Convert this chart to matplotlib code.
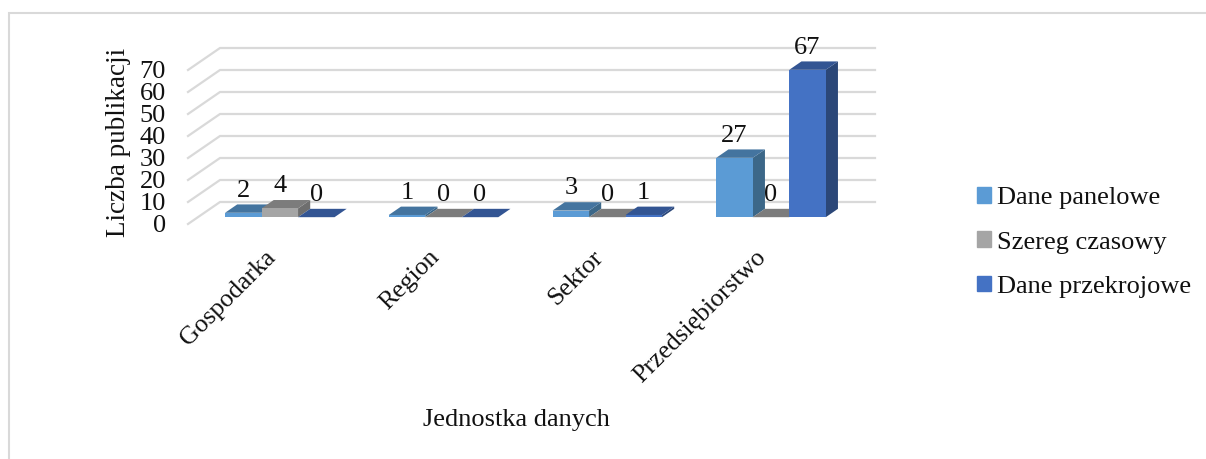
import matplotlib.pyplot as plt
from matplotlib.patches import Patch, Rectangle

plt.rcParams["font.family"] = "Liberation Serif"

# Data
categories = ["Gospodarka", "Region", "Sektor", "Przedsiębiorstwo"]
series_names = ["Dane panelowe", "Szereg czasowy", "Dane przekrojowe"]
panel = [2, 1, 3, 27]
time_series = [4, 0, 0, 0]
cross_section = [0, 0, 1, 67]
y_ticks = [0, 10, 20, 30, 40, 50, 60, 70]

series = [panel, time_series, cross_section]
front_colors = ["#5B9BD5", "#A5A5A5", "#4472C4"]
top_colors = ["#44749F", "#7C7C7C", "#335593"]
side_colors = ["#3C6788", "#6E6E6E", "#2B4778"]
text_color = "#111111"

W, H = 1206, 459
fig = plt.figure(figsize=(W / 100, H / 100), dpi=100)
ax = fig.add_axes([188 / W, (H - 224) / H, 655 / W, 154 / H])
ax.set_xlim(-0.5, 3.5)
ax.set_ylim(0, 70)
ax.patch.set_visible(False)
for s in ax.spines.values():
    s.set_visible(False)

# Oblique depth of the plot box, in data units
DEPTH_X = 32 / 163.75
DEPTH_Y = 10
BAR_W = 36.5 / 163.75
D_FRONT, D_BACK = 0.31, 0.69

# Walls: gridlines along the back, diagonals on the left side
for v in y_ticks:
    ax.plot([-0.5, -0.5 + DEPTH_X, 3.5 + DEPTH_X], [v, v + DEPTH_Y, v + DEPTH_Y],
            color="#D9D9D9", lw=1.6, clip_on=False, zorder=1, solid_joinstyle="miter")

# Bars, left to right so each one covers the hidden part of its neighbour
z = 2
for i in range(len(categories)):
    for j, vals in enumerate(series):
        v = vals[i]
        x0 = i + (j - 1.5) * BAR_W + D_FRONT * DEPTH_X
        x1 = x0 + BAR_W
        b = D_FRONT * DEPTH_Y
        t = b + v
        dx = (D_BACK - D_FRONT) * DEPTH_X
        dy = (D_BACK - D_FRONT) * DEPTH_Y
        ax.fill([x1, x1 + dx, x1 + dx, x1], [b, b + dy, t + dy, t],
                color=side_colors[j], lw=0, clip_on=False, zorder=z)
        ax.fill([x0, x1, x1 + dx, x0 + dx], [t, t, t + dy, t + dy],
                color=top_colors[j], lw=0, clip_on=False, zorder=z)
        ax.bar(x0, v, BAR_W, bottom=b, align="edge", color=front_colors[j],
               clip_on=False, zorder=z)
        ax.annotate(str(v), (x0 + BAR_W / 2, t), xytext=(0, 16),
                    textcoords="offset points", ha="center", va="center",
                    fontsize=19, color=text_color, zorder=50)
        z += 1

ax.set_yticks(y_ticks)
ax.set_xticks([i - 0.035 for i in range(len(categories))])
ax.set_xticklabels(categories, rotation=45, ha="right", va="top",
                   rotation_mode="anchor", fontsize=18.5, color=text_color)
ax.tick_params(axis="y", length=0, pad=16, labelsize=19, labelcolor=text_color)
ax.tick_params(axis="x", length=0, pad=16)

ax.set_ylabel("Liczba publikacji", fontsize=19.5, color=text_color, va="center")
ax.yaxis.set_label_coords(-70 / 655, 82 / 154)
ax.set_xlabel("Jednostka danych", fontsize=19, color=text_color, va="center")
ax.xaxis.set_label_coords(328 / 655, -196 / 154)

handles = [Patch(color=c) for c in front_colors]
fig.legend(handles, series_names, loc="center left",
           bbox_to_anchor=(977 / W, (H - 242.5) / H), frameon=False, fontsize=19,
           handlelength=0.53, handleheight=0.53, handletextpad=0.23,
           labelspacing=0.84, borderpad=0, borderaxespad=0, labelcolor=text_color)

# Thin outer border
fig.add_artist(Rectangle((9 / W, -0.05), 1.1, (H - 13) / H + 0.05,
                         transform=fig.transFigure, fill=False,
                         edgecolor="#D9D9D9", lw=1.5))

fig.savefig("out.png", dpi=100)
